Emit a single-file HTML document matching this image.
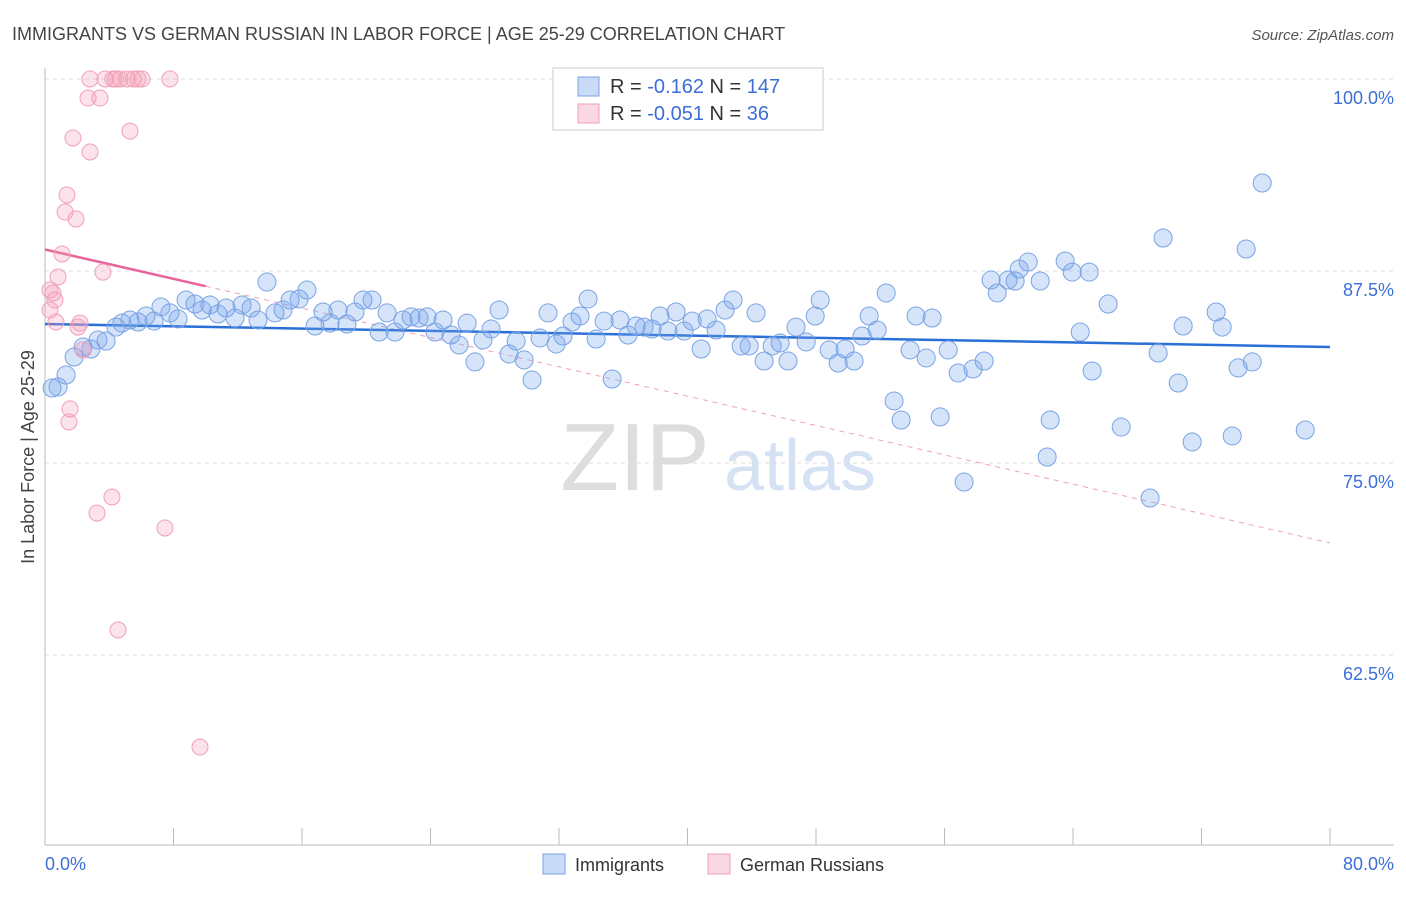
<!DOCTYPE html>
<html><head><meta charset="utf-8"><style>
body{margin:0;background:#fff;font-family:"Liberation Sans",sans-serif;}
svg text{font-family:"Liberation Sans",sans-serif;}
</style></head><body>
<svg id="chart" width="1406" height="892" xmlns="http://www.w3.org/2000/svg">
<text x="12" y="40" font-size="18" fill="#444">IMMIGRANTS VS GERMAN RUSSIAN IN LABOR FORCE | AGE 25-29 CORRELATION CHART</text>
<text x="1394" y="40" font-size="15" fill="#555" font-style="italic" text-anchor="end">Source: ZipAtlas.com</text>
<g>
<text x="635" y="490" font-size="96" fill="#ddd" font-family="Liberation Serif" text-anchor="middle">ZIP</text>
<text x="800" y="490" font-size="72" fill="#d4e2f4" text-anchor="middle">atlas</text>
</g>
<g id="grid"></g>
<g id="axes"></g>
<g id="trend"></g>
<g id="pts"></g>
<text transform="translate(34,457) rotate(-90)" font-size="18" fill="#444" text-anchor="middle">In Labor Force | Age 25-29</text>
<text x="45" y="870" font-size="18" fill="#3b6fd8">0.0%</text>
<text x="1394" y="870" font-size="18" fill="#3b6fd8" text-anchor="end">80.0%</text>
<g>
<rect x="553" y="68" width="270" height="62" fill="#fff" stroke="#ccc"/>
<rect x="578" y="77" width="21" height="19" fill="rgba(120,165,235,0.4)" stroke="#7aa3e5"/>
<rect x="578" y="104" width="21" height="19" fill="rgba(245,160,185,0.4)" stroke="#f0a0b8"/>
<text x="610" y="93" font-size="20" fill="#333">R = <tspan fill="#3b6fd8">-0.162</tspan>   N = <tspan fill="#3b6fd8">147</tspan></text>
<text x="610" y="120" font-size="20" fill="#333">R = <tspan fill="#3b6fd8">-0.051</tspan>   N = <tspan fill="#3b6fd8">  36</tspan></text>
</g>
<g>
<rect x="543" y="854" width="22" height="20" fill="rgba(120,165,235,0.4)" stroke="#7aa3e5"/>
<text x="575" y="871" font-size="18" fill="#333">Immigrants</text>
<rect x="708" y="854" width="22" height="20" fill="rgba(245,160,185,0.4)" stroke="#f0a0b8"/>
<text x="740" y="871" font-size="18" fill="#333">German Russians</text>
</g>
</svg>
<script>
const yTicks=[100,87.5,75,62.5];
const yTickLabels=["100.0%","87.5%","75.0%","62.5%"];
const xTicks=[0,8,16,24,32,40,48,56,64,72,80];
const blueX=[0.44,0.81,1.31,1.81,2.37,2.86,3.30,3.80,4.42,4.79,5.29,5.79,6.29,6.79,7.22,7.78,8.28,8.78,9.34,9.78,10.27,10.77,11.27,11.83,12.27,12.83,13.26,13.82,14.32,14.82,15.26,15.82,16.31,16.81,17.31,17.75,18.24,18.80,19.30,19.80,20.36,20.80,21.30,21.79,22.29,22.79,23.29,23.79,24.28,24.78,25.28,25.78,26.28,26.77,27.27,27.77,28.27,28.89,29.33,29.83,30.32,30.82,31.32,31.82,32.25,32.81,33.31,33.81,34.31,34.81,35.31,35.80,36.30,36.80,37.30,37.80,38.29,38.79,39.29,39.79,40.29,40.85,41.22,41.78,42.34,42.84,43.34,43.84,44.27,44.77,45.27,45.77,46.26,46.76,47.39,47.95,48.26,48.82,49.38,49.81,50.37,50.87,51.31,51.81,52.37,52.86,53.30,53.86,54.23,54.86,55.23,55.73,56.23,56.85,57.22,57.78,58.47,58.90,59.28,59.96,60.40,60.65,61.21,61.96,62.39,62.58,63.51,63.95,64.45,65.01,65.19,66.19,67.00,68.80,69.30,69.61,70.55,70.86,71.42,72.91,73.29,73.91,74.28,74.78,75.16,75.78,78.46];
const blueY=[79.88,79.95,80.73,81.90,82.55,82.42,83.01,82.94,83.85,84.11,84.31,84.18,84.57,84.24,85.16,84.77,84.38,85.61,85.35,84.96,85.29,84.70,85.09,84.44,85.29,85.09,84.31,86.78,84.77,84.96,85.61,85.68,86.26,83.92,84.83,84.11,84.96,84.05,84.83,85.61,85.61,83.53,84.77,83.53,84.31,84.51,84.44,84.51,83.53,84.31,83.33,82.68,84.11,81.58,83.01,83.72,84.96,82.10,82.94,81.71,80.40,83.14,84.77,82.75,83.27,84.18,84.57,85.68,83.07,84.24,80.47,84.31,83.33,83.92,83.85,83.72,84.57,83.59,84.83,83.59,84.24,82.42,84.38,83.66,84.96,85.61,82.62,82.62,84.77,81.64,82.62,82.81,81.64,83.85,82.88,84.57,85.61,82.36,81.51,82.42,81.64,83.27,84.57,83.66,86.07,79.04,77.80,82.36,84.57,81.84,84.44,78.00,82.36,80.86,73.76,81.12,81.64,86.91,86.07,86.91,86.85,87.63,88.09,86.85,75.39,77.80,88.15,87.43,83.53,87.43,80.99,85.35,77.34,72.72,82.16,89.65,80.21,83.92,76.37,84.83,83.85,76.76,81.19,88.93,81.58,93.23,77.15];
const pinkX=[2.80,3.74,4.23,4.67,5.11,5.79,6.04,7.78,5.50,4.40,2.68,3.42,1.74,5.29,2.80,1.37,1.25,1.93,1.06,3.61,0.81,0.31,0.50,0.62,0.31,0.68,2.18,2.05,2.37,1.56,1.49,4.17,3.24,7.47,4.55,9.65];
const pinkY=[100,100,100,100,100,100,100,100,100,100,98.76,98.76,96.16,96.61,95.25,92.45,91.34,90.89,88.61,87.43,87.11,86.26,86.07,85.61,84.96,84.18,84.11,83.85,82.36,78.52,77.67,72.79,71.74,70.77,64.13,56.51];
const blueTrend=[84.05,82.55];
const pinkTrend=[88.9,69.8];
const pinkSolidEnd=10;

const NS="http://www.w3.org/2000/svg";
const X0=45,X1=1330,Y100=79,PXPER=15.36;
function sx(v){return X0+(X1-X0)*v/80;}
function sy(v){return Y100+(100-v)*PXPER;}
function mk(tag,attrs,parent){const e=document.createElementNS(NS,tag);for(const k in attrs)e.setAttribute(k,attrs[k]);document.getElementById(parent).appendChild(e);return e;}

yTicks.forEach((t,i)=>{
  const l=mk('line',{x1:X0,x2:1394,y1:sy(t),y2:sy(t),stroke:'#ddd','stroke-dasharray':'4,4'},'grid');
  
  
  const tx=mk('text',{x:1394,y:sy(t)+25,'font-size':18,fill:'#3b6fd8','text-anchor':'end'},'grid');
  tx.textContent=yTickLabels[i];
  
  
});
const ya=mk('line',{x1:X0,x2:X0,y1:68,y2:845,stroke:'#bbb'},'axes');


const xa=mk('line',{x1:X0,x2:1394,y1:845,y2:845,stroke:'#bbb'},'axes');


xTicks.forEach(t=>{
  const l=mk('line',{x1:sx(t),x2:sx(t),y1:828,y2:845,stroke:'#bbb'},'axes');
  
  
});
function ty(tr,x){return tr[0]+(tr[1]-tr[0])*x/80;}
const pd=mk('line',{x1:sx(pinkSolidEnd),y1:sy(ty(pinkTrend,pinkSolidEnd)),x2:sx(80),y2:sy(pinkTrend[1]),stroke:'#f0a0b8','stroke-dasharray':'5,5','stroke-width':1},'trend');


blueX.forEach((x,i)=>{
  const c=mk('circle',{cx:sx(x),cy:sy(blueY[i]),r:9,fill:'rgba(120,165,235,0.3)',stroke:'#7aa3e5','stroke-width':1},'pts');
  
  
});
pinkX.forEach((x,i)=>{
  const c=mk('circle',{cx:sx(x),cy:sy(pinkY[i]),r:8,fill:'rgba(245,160,185,0.3)',stroke:'#f0a0b8','stroke-width':1},'pts');
  
  
});
const bt=mk('line',{x1:sx(0),y1:sy(blueTrend[0]),x2:sx(80),y2:sy(blueTrend[1]),stroke:'#2a6fd6','stroke-width':2.5},'trend');


const pt=mk('line',{x1:sx(0),y1:sy(pinkTrend[0]),x2:sx(pinkSolidEnd),y2:sy(ty(pinkTrend,pinkSolidEnd)),stroke:'#e8659a','stroke-width':2.5},'trend');


</script>
</body></html>
